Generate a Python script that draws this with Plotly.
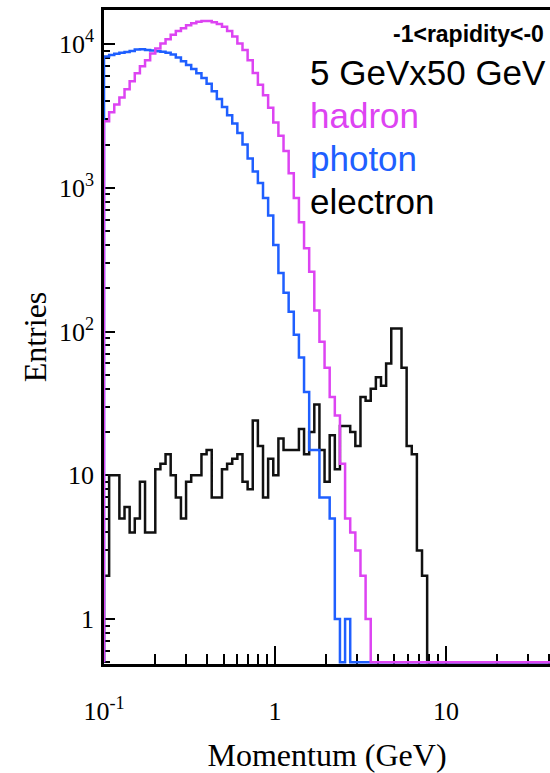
import numpy as np
import plotly.graph_objects as go

# Log-spaced binning: each bin spans 0.03 decades, starting at 0.1 GeV
P_MIN = 0.1
LOG_BIN_WIDTH = 0.03
EMPTY_LEVEL = 0.5  # empty bins are drawn on the lower edge of the log axis

# Entries per momentum bin
hadron = [2900, 3350, 3800, 4250, 4850, 5500, 6250, 7000, 7700, 8600,
          9300, 10100, 10800, 11600, 12300, 12900, 13500, 13950, 14300, 14450,
          14450, 14200, 13800, 13200, 12300, 11300, 10100, 9100, 7700, 6300,
          5200, 4400, 3600, 2850, 2300, 1800, 1260, 850, 575, 380,
          260, 140, 85, 56, 35, 26, 12, 5, 4, 3,
          2, 1, 0, 0, 0, 0, 0, 0, 0, 0,
          0, 0, 0, 0, 0, 0, 0, 0, 0, 0,
          0, 0, 0, 0, 0, 0, 0, 0, 0, 0,
          0, 0, 0, 0, 0, 0, 0, 0]

photon = [8200, 8400, 8550, 8700, 8800, 8950, 9150, 9200, 9100, 9000,
          8900, 8850, 8700, 8450, 8050, 7600, 7150, 6700, 6250, 5800,
          5300, 4700, 4150, 3650, 3200, 2800, 2400, 2000, 1600, 1300,
          1080, 850, 640, 400, 255, 186, 137, 95, 66, 38,
          15, 15, 7, 7, 5, 1, 0, 1, 0, 0,
          0, 0, 0, 0, 0, 0, 0, 0, 0, 0,
          0, 0, 0, 0, 0, 0, 0, 0, 0, 0,
          0, 0, 0, 0, 0, 0, 0, 0, 0, 0,
          0, 0, 0, 0, 0, 0, 0, 0]

electron = [2, 10, 10, 5, 6, 4, 5, 9, 4, 4,
            11, 12, 14, 10, 7, 5, 9, 10, 10, 14,
            15, 7, 7, 11, 12, 13, 14, 9, 8, 24,
            16, 7, 13, 10, 18, 15, 15, 15, 21, 14,
            20, 31, 15, 9, 19, 11, 22, 22, 20, 16,
            35, 33, 40, 48, 42, 60, 105, 105, 56, 16,
            14, 3, 2, 0, 0, 0, 0, 0, 0, 0,
            0, 0, 0, 0, 0, 0, 0, 0, 0, 0,
            0, 0, 0, 0, 0, 0, 0, 0]

x_tickvals = [0.1, 1, 10]
x_ticktext = ["10<sup>-1</sup>", "1", "10"]
y_tickvals = [1, 10, 100, 1000, 10000]
y_ticktext = ["1", "10", "10<sup>2</sup>", "10<sup>3</sup>", "10<sup>4</sup>"]

MAGENTA = "#dd44f2"
BLUE = "#1f5fff"
BLACK = "#111111"

SERIF = "Liberation Serif"
SANS = "Liberation Sans"


def step_outline(counts):
    """Histogram outline: rises from the axis floor at the first edge,
    then one horizontal run per bin."""
    n = len(counts)
    edges = P_MIN * 10 ** (LOG_BIN_WIDTH * np.arange(n + 1))
    vals = [c if c > 0 else EMPTY_LEVEL for c in counts]
    xs = [edges[0]] + list(edges[:-1]) + [edges[-1]]
    ys = [EMPTY_LEVEL] + vals + [vals[-1]]
    return xs, ys


fig = go.Figure()
for counts, color in [(electron, BLACK), (photon, BLUE), (hadron, MAGENTA)]:
    xs, ys = step_outline(counts)
    fig.add_trace(go.Scatter(x=xs, y=ys, mode="lines",
                             line=dict(color=color, width=2.5, shape="hv"),
                             hoverinfo="skip"))

x_minor = [m * 10.0 ** k for k in (-1, 0, 1) for m in range(2, 10)]
y_minor = [m * 10.0 ** k for k in (-1, 0, 1, 2, 3, 4) for m in range(2, 10)]

fig.update_xaxes(
    type="log", range=[-1, 1.6085],
    showline=True, linecolor="black", linewidth=2.5, mirror=True,
    showgrid=False, zeroline=False, layer="below traces",
    ticks="inside", ticklen=18, tickwidth=2, tickcolor="black",
    tickmode="array", tickvals=x_tickvals, ticktext=x_ticktext,
    tickfont=dict(family=SERIF, size=26, color="black"),
    ticklabelstandoff=22,
    minor=dict(ticks="inside", ticklen=10, tickwidth=2, tickcolor="black",
               tickmode="array", tickvals=x_minor, showgrid=False),
    title=dict(text="Momentum (GeV)", font=dict(family=SERIF, size=32, color="black"),
               standoff=22),
)
fig.update_yaxes(
    type="log", range=[np.log10(0.486), np.log10(17250)],
    showline=True, linecolor="black", linewidth=2.5, mirror=False,
    showgrid=False, zeroline=False, layer="below traces",
    ticks="inside", ticklen=11, tickwidth=2, tickcolor="black",
    tickmode="array", tickvals=y_tickvals, ticktext=y_ticktext,
    tickfont=dict(family=SERIF, size=26, color="black"),
    ticklabelstandoff=2,
    minor=dict(ticks="inside", ticklen=6, tickwidth=2, tickcolor="black",
               tickmode="array", tickvals=y_minor, showgrid=False),
    title=dict(text="Entries", font=dict(family=SERIF, size=32, color="black"),
               standoff=3),
)

labels = [
    ("<b>-1&lt;rapidity&lt;-0</b>", 0.6435, 0.9633, 23, "black"),
    ("5 GeVx50 GeV", 0.4574, 0.9051, 35, "black"),
    ("hadron", 0.4574, 0.8394, 35, MAGENTA),
    ("photon", 0.4574, 0.7736, 35, BLUE),
    ("electron", 0.4574, 0.7079, 35, "black"),
]
for text, x, y, size, color in labels:
    fig.add_annotation(text=text, x=x, y=y, xref="paper", yref="paper",
                       xanchor="left", yanchor="middle", showarrow=False,
                       font=dict(family=SANS, size=size, color=color))

fig.update_layout(
    width=550, height=773,
    margin=dict(l=104, r=0, t=10, b=109, autoexpand=False),
    paper_bgcolor="white", plot_bgcolor="white",
    showlegend=False,
)

fig.write_html("out.html")
